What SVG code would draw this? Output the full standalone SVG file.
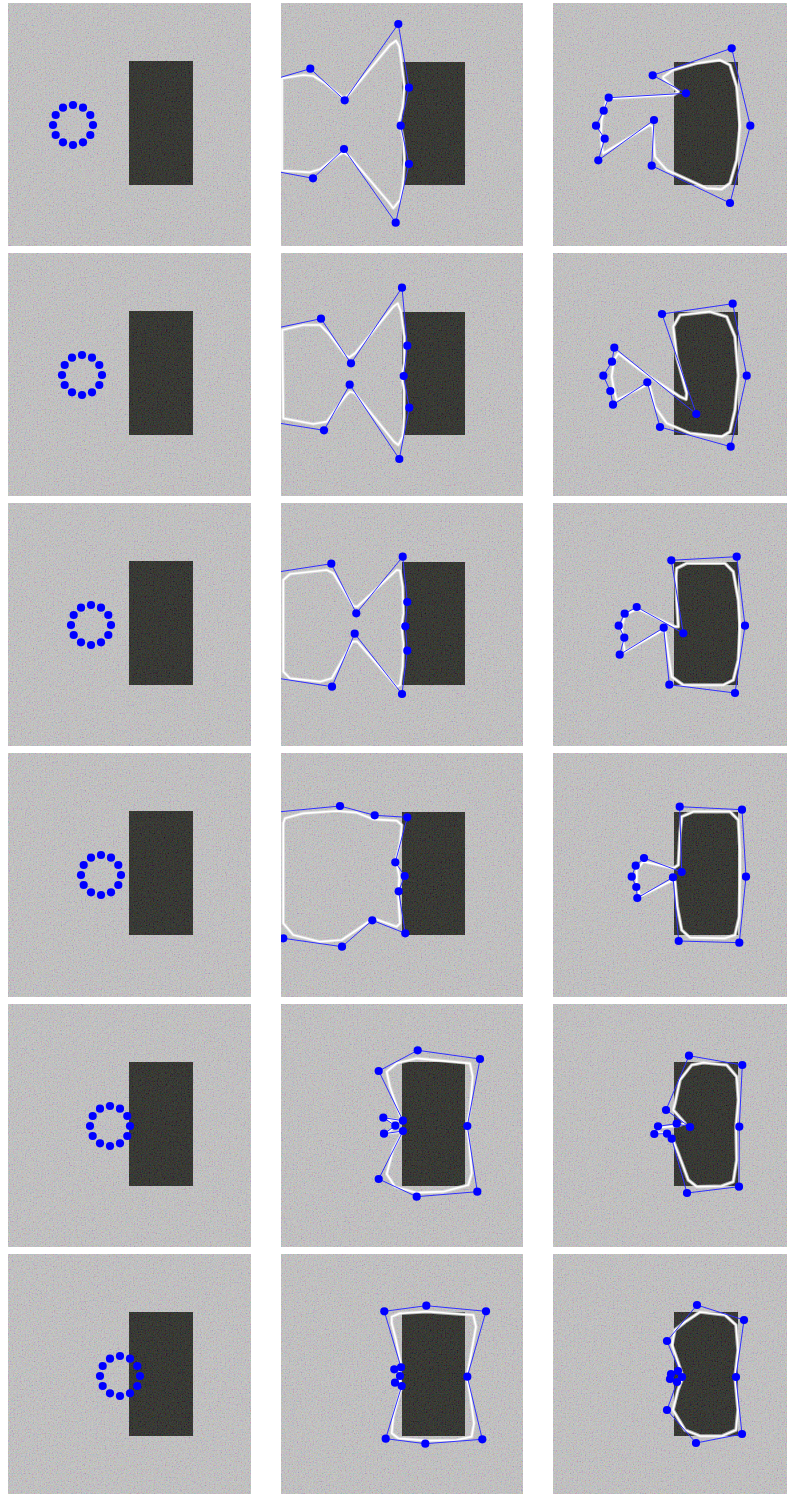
<svg xmlns="http://www.w3.org/2000/svg" xmlns:xlink="http://www.w3.org/1999/xlink" width="787" height="1494" viewBox="0 0 787 1494">
<style>
.bg{fill:#c2c1c2}
.obj{fill:#1d1e19}
.nz{fill:#808080}
.ctl{fill:none;stroke:#3030ff;stroke-width:1;stroke-linejoin:round}
.pt circle,.pt{fill:#0000ff}
.halo{fill:none;stroke:#e0e0e0;stroke-width:3.6;stroke-linejoin:round;opacity:.7}
.wc{fill:none;stroke:#ffffff;stroke-width:1.7;stroke-linejoin:round}
</style>
<defs>
<filter id="grain" x="0" y="0" width="1" height="1" filterUnits="objectBoundingBox">
<feTurbulence type="fractalNoise" baseFrequency="0.75" numOctaves="2" seed="7"/>
<feColorMatrix type="matrix" values="2 0 0 0 -0.5  0 2 0 0 -0.5  0 0 2 0 -0.5  0 0 0 0 0.18"/>
</filter>
<g id="ring" class="pt">
<circle cx="20" cy="0" r="4.1"/><circle cx="17.3" cy="10" r="4.1"/><circle cx="10" cy="17.3" r="4.1"/><circle cx="0" cy="20" r="4.1"/><circle cx="-10" cy="17.3" r="4.1"/><circle cx="-17.3" cy="10" r="4.1"/><circle cx="-20" cy="0" r="4.1"/><circle cx="-17.3" cy="-10" r="4.1"/><circle cx="-10" cy="-17.3" r="4.1"/><circle cx="0" cy="-20" r="4.1"/><circle cx="10" cy="-17.3" r="4.1"/><circle cx="17.3" cy="-10" r="4.1"/>
</g>
<clipPath id="c12"><rect x="281" y="3" width="242" height="243"/></clipPath>
<clipPath id="c22"><rect x="281" y="253" width="242" height="243"/></clipPath>
<clipPath id="c32"><rect x="281" y="503" width="242" height="243"/></clipPath>
<clipPath id="c42"><rect x="281" y="753" width="242" height="244"/></clipPath>
</defs>
<rect width="787" height="1494" fill="#ffffff"/>

<!-- Column 1 -->
<g id="r1c1"><rect class="bg" x="8" y="3" width="243" height="243"/><rect class="obj" x="129" y="61" width="64" height="124"/><rect class="nz" x="8" y="3" width="243" height="243" filter="url(#grain)"/><use xlink:href="#ring" x="73" y="125"/></g>
<g id="r2c1"><rect class="bg" x="8" y="253" width="243" height="243"/><rect class="obj" x="129" y="311" width="64" height="124"/><rect class="nz" x="8" y="253" width="243" height="243" filter="url(#grain)"/><use xlink:href="#ring" x="82" y="375"/></g>
<g id="r3c1"><rect class="bg" x="8" y="503" width="243" height="243"/><rect class="obj" x="129" y="561" width="64" height="124"/><rect class="nz" x="8" y="503" width="243" height="243" filter="url(#grain)"/><use xlink:href="#ring" x="91" y="625"/></g>
<g id="r4c1"><rect class="bg" x="8" y="753" width="243" height="244"/><rect class="obj" x="129" y="811" width="64" height="124"/><rect class="nz" x="8" y="753" width="243" height="244" filter="url(#grain)"/><use xlink:href="#ring" x="101" y="875"/></g>
<g id="r5c1"><rect class="bg" x="8" y="1004" width="243" height="243"/><rect class="obj" x="129" y="1062" width="64" height="124"/><rect class="nz" x="8" y="1004" width="243" height="243" filter="url(#grain)"/><use xlink:href="#ring" x="110" y="1126"/></g>
<g id="r6c1"><rect class="bg" x="8" y="1254" width="243" height="243"/><rect class="obj" x="129" y="1312" width="64" height="124"/><rect class="nz" x="8" y="1254" width="243" height="243" filter="url(#grain)"/><use xlink:href="#ring" x="120" y="1376"/></g>

<!-- Column 2 -->
<g id="r1c2" clip-path="url(#c12)"><rect class="bg" x="281" y="3" width="242" height="243"/><rect class="obj" x="402" y="62" width="63" height="123"/><rect class="nz" x="281" y="3" width="242" height="243" filter="url(#grain)"/>
<polygon class="halo" points="282,78.3 303.3,75 313.3,76 325,83.3 341.7,96.7 345,97.7 350,93.3 390,45 396,40.7 399.3,46.7 402,66.7 404.3,86.7 402.7,106.7 399.3,120 401,128.3 403.3,140 404.3,160 402.7,186.7 400,200 393.3,208.3 388.3,201.7 350,156.7 344,152.7 338.3,155 320,169.3 310,172.3 282,170.7"/>
<polygon class="wc" points="282,78.3 303.3,75 313.3,76 325,83.3 341.7,96.7 345,97.7 350,93.3 390,45 396,40.7 399.3,46.7 402,66.7 404.3,86.7 402.7,106.7 399.3,120 401,128.3 403.3,140 404.3,160 402.7,186.7 400,200 393.3,208.3 388.3,201.7 350,156.7 344,152.7 338.3,155 320,169.3 310,172.3 282,170.7"/>
<polyline class="ctl" points="260,83.4 310.3,68.7 344.7,100.3 398.3,24 409,87.7 400.7,125.7 409,164 395.7,222.7 344,149 313,178.3 260,168.4"/>
<g class="pt"><circle cx="310.3" cy="68.7" r="4.1"/><circle cx="344.7" cy="100.3" r="4.1"/><circle cx="398.3" cy="24" r="4.1"/><circle cx="409" cy="87.7" r="4.1"/><circle cx="400.7" cy="125.7" r="4.1"/><circle cx="409" cy="164" r="4.1"/><circle cx="395.7" cy="222.7" r="4.1"/><circle cx="344" cy="149" r="4.1"/><circle cx="313" cy="178.3" r="4.1"/></g>
</g>
<g id="r2c2" clip-path="url(#c22)"><rect class="bg" x="281" y="253" width="242" height="243"/><rect class="obj" x="402" y="312" width="63" height="123"/><rect class="nz" x="281" y="253" width="242" height="243" filter="url(#grain)"/>
<polygon class="halo" points="282.3,330 303.3,325 320,325 328.3,333.3 345,355 349.3,357.3 355,353.3 393.3,306.7 397.7,303.3 401,311.7 404.3,336.7 404.3,363.3 401.7,376.7 404,390 404,416.7 402.7,436.7 398.3,445 394,441.7 355,393.3 350,391.7 345,396.7 326.7,421.7 313.3,424 283.3,418.3"/>
<polygon class="wc" points="282.3,330 303.3,325 320,325 328.3,333.3 345,355 349.3,357.3 355,353.3 393.3,306.7 397.7,303.3 401,311.7 404.3,336.7 404.3,363.3 401.7,376.7 404,390 404,416.7 402.7,436.7 398.3,445 394,441.7 355,393.3 350,391.7 345,396.7 326.7,421.7 313.3,424 283.3,418.3"/>
<polyline class="ctl" points="260,331.5 321,318.7 351,363.3 402,287.7 407.3,345.7 403.7,376 409.3,407.7 399.3,459 349.7,384.7 324,430.3 260,420.1"/>
<g class="pt"><circle cx="321" cy="318.7" r="4.1"/><circle cx="351" cy="363.3" r="4.1"/><circle cx="402" cy="287.7" r="4.1"/><circle cx="407.3" cy="345.7" r="4.1"/><circle cx="403.7" cy="376" r="4.1"/><circle cx="409.3" cy="407.7" r="4.1"/><circle cx="399.3" cy="459" r="4.1"/><circle cx="349.7" cy="384.7" r="4.1"/><circle cx="324" cy="430.3" r="4.1"/></g>
</g>
<g id="r3c2" clip-path="url(#c32)"><rect class="bg" x="281" y="503" width="242" height="243"/><rect class="obj" x="402" y="562" width="63" height="123"/><rect class="nz" x="281" y="503" width="242" height="243" filter="url(#grain)"/>
<polygon class="halo" points="283.3,580 290,574 326.7,570 333.3,573.3 353.3,606 357.3,606.7 396.7,570 400,570.7 402.7,586.7 403.3,613.3 401.7,626.7 403.3,643.3 402.7,666.7 400,685 396.7,686.7 357.3,641.7 352.7,641.7 331.7,678.3 320,681.7 290,678.3 283.3,671.7"/>
<polygon class="wc" points="283.3,580 290,574 326.7,570 333.3,573.3 353.3,606 357.3,606.7 396.7,570 400,570.7 402.7,586.7 403.3,613.3 401.7,626.7 403.3,643.3 402.7,666.7 400,685 396.7,686.7 357.3,641.7 352.7,641.7 331.7,678.3 320,681.7 290,678.3 283.3,671.7"/>
<polyline class="ctl" points="260,574.8 331.3,563.7 356.3,613.3 402.7,556.7 407.3,602 405.3,626.3 407.3,650.7 402,694 354.7,633.7 332,686.7 260,675.5"/>
<g class="pt"><circle cx="331.3" cy="563.7" r="4.1"/><circle cx="356.3" cy="613.3" r="4.1"/><circle cx="402.7" cy="556.7" r="4.1"/><circle cx="407.3" cy="602" r="4.1"/><circle cx="405.3" cy="626.3" r="4.1"/><circle cx="407.3" cy="650.7" r="4.1"/><circle cx="402" cy="694" r="4.1"/><circle cx="354.7" cy="633.7" r="4.1"/><circle cx="332" cy="686.7" r="4.1"/></g>
</g>
<g id="r4c2" clip-path="url(#c42)"><rect class="bg" x="281" y="753" width="242" height="244"/><rect class="obj" x="402" y="812" width="63" height="123"/><rect class="nz" x="281" y="753" width="242" height="244" filter="url(#grain)"/>
<polygon class="halo" points="283.3,823 285,818.3 303.3,813.3 336.7,811 356.7,812.7 373.3,819.3 396.7,820.7 401.7,825 400,843.3 396,860 399.3,876.7 398.3,896.7 400,923.3 396.7,926.7 373.3,918.3 356.7,930 341.7,940 320,941.7 293.3,935 283.3,923.3"/>
<polygon class="wc" points="283.3,823 285,818.3 303.3,813.3 336.7,811 356.7,812.7 373.3,819.3 396.7,820.7 401.7,825 400,843.3 396,860 399.3,876.7 398.3,896.7 400,923.3 396.7,926.7 373.3,918.3 356.7,930 341.7,940 320,941.7 293.3,935 283.3,923.3"/>
<polyline class="ctl" points="260,813.7 340,806 374.7,815.3 407.3,817.3 395.3,862.3 404.7,876 398.7,891.3 405.3,933.3 372.3,920.3 342,946.7 283.3,938.3 255,930"/>
<g class="pt"><circle cx="340" cy="806" r="4.1"/><circle cx="374.7" cy="815.3" r="4.1"/><circle cx="407.3" cy="817.3" r="4.1"/><circle cx="395.3" cy="862.3" r="4.1"/><circle cx="404.7" cy="876" r="4.1"/><circle cx="398.7" cy="891.3" r="4.1"/><circle cx="405.3" cy="933.3" r="4.1"/><circle cx="372.3" cy="920.3" r="4.1"/><circle cx="342" cy="946.7" r="4.1"/><circle cx="283.3" cy="938.3" r="4.1"/></g>
</g>
<g id="r5c2"><rect class="bg" x="281" y="1004" width="242" height="243"/><rect class="obj" x="402" y="1062" width="63" height="124"/><rect class="nz" x="281" y="1004" width="242" height="243" filter="url(#grain)"/>
<polygon class="halo" points="386.7,1071.7 396.7,1063.3 416.7,1058.3 470,1063.3 472.7,1076.7 470,1110 466.7,1126 469.3,1143.3 471.7,1173.3 468.3,1185 443.3,1191.7 416.7,1192.7 395,1186.7 386.7,1174 393,1150 400,1137 401.7,1132 388,1133 395,1126 388,1119 401.7,1121 398,1110 390,1087"/>
<polygon class="wc" points="386.7,1071.7 396.7,1063.3 416.7,1058.3 470,1063.3 472.7,1076.7 470,1110 466.7,1126 469.3,1143.3 471.7,1173.3 468.3,1185 443.3,1191.7 416.7,1192.7 395,1186.7 386.7,1174 393,1150 400,1137 401.7,1132 388,1133 395,1126 388,1119 401.7,1121 398,1110 390,1087"/>
<polygon class="ctl" points="417.7,1050.3 480,1059 467.3,1126 477.3,1191.7 416.7,1196.7 378.7,1179 403,1131 384,1133.7 395.3,1125.7 383.3,1117.7 403,1120.7 378.7,1071"/>
<g class="pt"><circle cx="417.7" cy="1050.3" r="4.1"/><circle cx="480" cy="1059" r="4.1"/><circle cx="467.3" cy="1126" r="4.1"/><circle cx="477.3" cy="1191.7" r="4.1"/><circle cx="416.7" cy="1196.7" r="4.1"/><circle cx="378.7" cy="1179" r="4.1"/><circle cx="403" cy="1131" r="4.1"/><circle cx="384" cy="1133.7" r="4.1"/><circle cx="395.3" cy="1125.7" r="4.1"/><circle cx="383.3" cy="1117.7" r="4.1"/><circle cx="403" cy="1120.7" r="4.1"/><circle cx="378.7" cy="1071" r="4.1"/></g>
</g>
<g id="r6c2"><rect class="bg" x="281" y="1254" width="242" height="243"/><rect class="obj" x="402" y="1312" width="63" height="124"/><rect class="nz" x="281" y="1254" width="242" height="243" filter="url(#grain)"/>
<polygon class="halo" points="391.7,1316.7 400,1313.3 426.7,1311.7 473.3,1315 476,1326.7 470,1360 466.7,1376.7 470,1393.3 474,1423.3 471.7,1436.7 456.7,1440 426.7,1440.7 398.3,1438.3 391.7,1433.3 393.3,1416.7 400.7,1390 400,1376.7 400.7,1363.3 396,1340 391.7,1323.3"/>
<polygon class="wc" points="391.7,1316.7 400,1313.3 426.7,1311.7 473.3,1315 476,1326.7 470,1360 466.7,1376.7 470,1393.3 474,1423.3 471.7,1436.7 456.7,1440 426.7,1440.7 398.3,1438.3 391.7,1433.3 393.3,1416.7 400.7,1390 400,1376.7 400.7,1363.3 396,1340 391.7,1323.3"/>
<polygon class="ctl" points="384.3,1311.3 426.3,1305.7 486,1311.3 467.3,1376.7 482.3,1439.3 425.3,1443.7 385.7,1438.7 401.7,1386 395,1382.7 400,1376 394.3,1369.3 401,1367.3"/>
<g class="pt"><circle cx="384.3" cy="1311.3" r="4.1"/><circle cx="426.3" cy="1305.7" r="4.1"/><circle cx="486" cy="1311.3" r="4.1"/><circle cx="467.3" cy="1376.7" r="4.1"/><circle cx="482.3" cy="1439.3" r="4.1"/><circle cx="425.3" cy="1443.7" r="4.1"/><circle cx="385.7" cy="1438.7" r="4.1"/><circle cx="401.7" cy="1386" r="4.1"/><circle cx="395" cy="1382.7" r="4.1"/><circle cx="400" cy="1376" r="4.1"/><circle cx="394.3" cy="1369.3" r="4.1"/><circle cx="401" cy="1367.3" r="4.1"/></g>
</g>

<!-- Column 3 -->
<g id="r1c3"><rect class="bg" x="553" y="3" width="243" height="243"/><rect class="obj" x="674" y="62" width="64" height="123"/><rect class="nz" x="553" y="3" width="243" height="243" filter="url(#grain)"/>
<polygon class="halo" points="663.3,76.7 673.3,70 696.7,63.3 720,60 730,65 736.7,86.7 740,125.7 736.7,160 730,183.3 721.7,189.3 706.7,188.3 666.7,170 655,156.7 652.7,126.7 650,125 603.3,153.3 601.7,146.7 601,133.3 601.7,120 606.7,100 611.7,98.3 673.3,95 678.3,91.7 663.3,78.3"/>
<polygon class="wc" points="663.3,76.7 673.3,70 696.7,63.3 720,60 730,65 736.7,86.7 740,125.7 736.7,160 730,183.3 721.7,189.3 706.7,188.3 666.7,170 655,156.7 652.7,126.7 650,125 603.3,153.3 601.7,146.7 601,133.3 601.7,120 606.7,100 611.7,98.3 673.3,95 678.3,91.7 663.3,78.3"/>
<polygon class="ctl" points="731.7,48.3 750.3,125.7 730,203 651.7,165.7 654,120 598.3,160.3 604.7,138.7 596,125.7 603.7,110.7 608.7,97.7 686,93.3 652.7,75.3"/>
<g class="pt"><circle cx="731.7" cy="48.3" r="4.1"/><circle cx="750.3" cy="125.7" r="4.1"/><circle cx="730" cy="203" r="4.1"/><circle cx="651.7" cy="165.7" r="4.1"/><circle cx="654" cy="120" r="4.1"/><circle cx="598.3" cy="160.3" r="4.1"/><circle cx="604.7" cy="138.7" r="4.1"/><circle cx="596" cy="125.7" r="4.1"/><circle cx="603.7" cy="110.7" r="4.1"/><circle cx="608.7" cy="97.7" r="4.1"/><circle cx="686" cy="93.3" r="4.1"/><circle cx="652.7" cy="75.3" r="4.1"/></g>
</g>
<g id="r2c3"><rect class="bg" x="553" y="253" width="243" height="243"/><rect class="obj" x="674" y="312" width="64" height="123"/><rect class="nz" x="553" y="253" width="243" height="243" filter="url(#grain)"/>
<polygon class="halo" points="673.3,326.7 680,315 710,311.7 726.7,316.7 735,336.7 738.3,375.7 735,410 730,431.7 721.7,436.7 690,433.3 666.7,423.3 655,406.7 650,386.7 646.7,385 616.7,400 614,390 611.7,376.7 614,360 618.3,353.3 640,370 680,396.7 686,399.3 686.7,393.3 676.7,356.7"/>
<polygon class="wc" points="673.3,326.7 680,315 710,311.7 726.7,316.7 735,336.7 738.3,375.7 735,410 730,431.7 721.7,436.7 690,433.3 666.7,423.3 655,406.7 650,386.7 646.7,385 616.7,400 614,390 611.7,376.7 614,360 618.3,353.3 640,370 680,396.7 686,399.3 686.7,393.3 676.7,356.7"/>
<polygon class="ctl" points="662,314 732.7,303.7 746.7,375.7 730.7,446.7 660,427 647.3,382.3 613,404.7 610.3,391 603.3,375.7 612,361.7 614.3,347.7 696.3,414"/>
<g class="pt"><circle cx="662" cy="314" r="4.1"/><circle cx="732.7" cy="303.7" r="4.1"/><circle cx="746.7" cy="375.7" r="4.1"/><circle cx="730.7" cy="446.7" r="4.1"/><circle cx="660" cy="427" r="4.1"/><circle cx="647.3" cy="382.3" r="4.1"/><circle cx="613" cy="404.7" r="4.1"/><circle cx="610.3" cy="391" r="4.1"/><circle cx="603.3" cy="375.7" r="4.1"/><circle cx="612" cy="361.7" r="4.1"/><circle cx="614.3" cy="347.7" r="4.1"/><circle cx="696.3" cy="414" r="4.1"/></g>
</g>
<g id="r3c3"><rect class="bg" x="553" y="503" width="243" height="243"/><rect class="obj" x="674" y="562" width="64" height="123"/><rect class="nz" x="553" y="503" width="243" height="243" filter="url(#grain)"/>
<polygon class="halo" points="676.7,568.3 686.7,563.3 725,563.3 733.3,571.7 738.3,600 740,625.7 738.3,660 733.3,680 723.3,685 683.3,685 671.7,676.7 666.7,643.3 665,631.7 661.7,630.7 625,651.7 623.3,643.3 621.7,626.7 625,615 635,610 640,610 675,626.7 678.3,626.7 676.7,600 676,576.7"/>
<polygon class="wc" points="676.7,568.3 686.7,563.3 725,563.3 733.3,571.7 738.3,600 740,625.7 738.3,660 733.3,680 723.3,685 683.3,685 671.7,676.7 666.7,643.3 665,631.7 661.7,630.7 625,651.7 623.3,643.3 621.7,626.7 625,615 635,610 640,610 675,626.7 678.3,626.7 676.7,600 676,576.7"/>
<polygon class="ctl" points="671.3,560.3 736.7,556.7 745,625.7 735,693 669.3,684.7 663.7,627.7 619.7,654.7 624.3,637.7 618.7,625.7 624.7,613.7 636.7,607 683.3,633.3"/>
<g class="pt"><circle cx="671.3" cy="560.3" r="4.1"/><circle cx="736.7" cy="556.7" r="4.1"/><circle cx="745" cy="625.7" r="4.1"/><circle cx="735" cy="693" r="4.1"/><circle cx="669.3" cy="684.7" r="4.1"/><circle cx="663.7" cy="627.7" r="4.1"/><circle cx="619.7" cy="654.7" r="4.1"/><circle cx="624.3" cy="637.7" r="4.1"/><circle cx="618.7" cy="625.7" r="4.1"/><circle cx="624.7" cy="613.7" r="4.1"/><circle cx="636.7" cy="607" r="4.1"/><circle cx="683.3" cy="633.3" r="4.1"/></g>
</g>
<g id="r4c3"><rect class="bg" x="553" y="753" width="243" height="244"/><rect class="obj" x="674" y="812" width="64" height="123"/><rect class="nz" x="553" y="753" width="243" height="244" filter="url(#grain)"/>
<polygon class="halo" points="681.7,816.7 693.3,811.7 730,811.7 738.3,820 740,850 740,876.7 739.3,916.7 735,935 725,938.3 690,937.7 681.7,930 677.3,906.7 675,881.7 671.7,880.7 640,896.7 636.7,883.3 636.7,870 643.3,861.7 673.3,868.3 678.3,865 680,833.3"/>
<polygon class="wc" points="681.7,816.7 693.3,811.7 730,811.7 738.3,820 740,850 740,876.7 739.3,916.7 735,935 725,938.3 690,937.7 681.7,930 677.3,906.7 675,881.7 671.7,880.7 640,896.7 636.7,883.3 636.7,870 643.3,861.7 673.3,868.3 678.3,865 680,833.3"/>
<polygon class="ctl" points="679.7,806.7 742,809.7 746,876.7 739.3,942.7 678.7,941 673,877.3 637.3,898 636.3,887 631.7,876.7 635.7,865.7 644,858 681.7,872"/>
<g class="pt"><circle cx="679.7" cy="806.7" r="4.1"/><circle cx="742" cy="809.7" r="4.1"/><circle cx="746" cy="876.7" r="4.1"/><circle cx="739.3" cy="942.7" r="4.1"/><circle cx="678.7" cy="941" r="4.1"/><circle cx="673" cy="877.3" r="4.1"/><circle cx="637.3" cy="898" r="4.1"/><circle cx="636.3" cy="887" r="4.1"/><circle cx="631.7" cy="876.7" r="4.1"/><circle cx="635.7" cy="865.7" r="4.1"/><circle cx="644" cy="858" r="4.1"/><circle cx="681.7" cy="872" r="4.1"/></g>
</g>
<g id="r5c3"><rect class="bg" x="553" y="1004" width="243" height="243"/><rect class="obj" x="674" y="1062" width="64" height="124"/><rect class="nz" x="553" y="1004" width="243" height="243" filter="url(#grain)"/>
<polygon class="halo" points="675,1103.3 680,1080 691.7,1065 703.3,1062.7 726.7,1065 736.7,1076.7 738.3,1100 736,1126.7 736.7,1160 733.3,1181.7 721.7,1186 696.7,1186.7 688.3,1180 678.3,1153.3 671.7,1136.7 666.7,1133.3 656.7,1133.3 660,1127.3 676.7,1126 685,1123.3 673.3,1110"/>
<polygon class="wc" points="675,1103.3 680,1080 691.7,1065 703.3,1062.7 726.7,1065 736.7,1076.7 738.3,1100 736,1126.7 736.7,1160 733.3,1181.7 721.7,1186 696.7,1186.7 688.3,1180 678.3,1153.3 671.7,1136.7 666.7,1133.3 656.7,1133.3 660,1127.3 676.7,1126 685,1123.3 673.3,1110"/>
<polygon class="ctl" points="689,1055.7 742.3,1065 739.3,1126.7 739,1186.7 687,1193 671.7,1138.7 667,1133.7 654.3,1134 658,1126.3 676.7,1123.7 690,1127 666,1110"/>
<g class="pt"><circle cx="689" cy="1055.7" r="4.1"/><circle cx="742.3" cy="1065" r="4.1"/><circle cx="739.3" cy="1126.7" r="4.1"/><circle cx="739" cy="1186.7" r="4.1"/><circle cx="687" cy="1193" r="4.1"/><circle cx="671.7" cy="1138.7" r="4.1"/><circle cx="667" cy="1133.7" r="4.1"/><circle cx="654.3" cy="1134" r="4.1"/><circle cx="658" cy="1126.3" r="4.1"/><circle cx="676.7" cy="1123.7" r="4.1"/><circle cx="690" cy="1127" r="4.1"/><circle cx="666" cy="1110" r="4.1"/></g>
</g>
<g id="r6c3"><rect class="bg" x="553" y="1254" width="243" height="243"/><rect class="obj" x="674" y="1312" width="64" height="124"/><rect class="nz" x="553" y="1254" width="243" height="243" filter="url(#grain)"/>
<polygon class="halo" points="685,1322 700,1312 725,1315 736,1325 738,1350 735,1377 738,1410 736,1430 722,1436 700,1436 685,1430 673,1410 678,1390 683,1377 678,1362 672,1345 675,1330"/>
<polygon class="wc" points="685,1322 700,1312 725,1315 736,1325 738,1350 735,1377 738,1410 736,1430 722,1436 700,1436 685,1430 673,1410 678,1390 683,1377 678,1362 672,1345 675,1330"/>
<polygon class="ctl" points="697,1305 744,1320 736,1377 742,1434 696,1443 667,1410 677,1382 670,1379 671,1374 678,1371 682,1377 667,1341"/>
<g class="pt"><circle cx="697" cy="1305" r="4.1"/><circle cx="744" cy="1320" r="4.1"/><circle cx="736" cy="1377" r="4.1"/><circle cx="742" cy="1434" r="4.1"/><circle cx="696" cy="1443" r="4.1"/><circle cx="667" cy="1410" r="4.1"/><circle cx="677" cy="1382" r="4.1"/><circle cx="670" cy="1379" r="4.1"/><circle cx="671" cy="1374" r="4.1"/><circle cx="678" cy="1371" r="4.1"/><circle cx="682" cy="1377" r="4.1"/><circle cx="667" cy="1341" r="4.1"/></g>
</g>
</svg>
